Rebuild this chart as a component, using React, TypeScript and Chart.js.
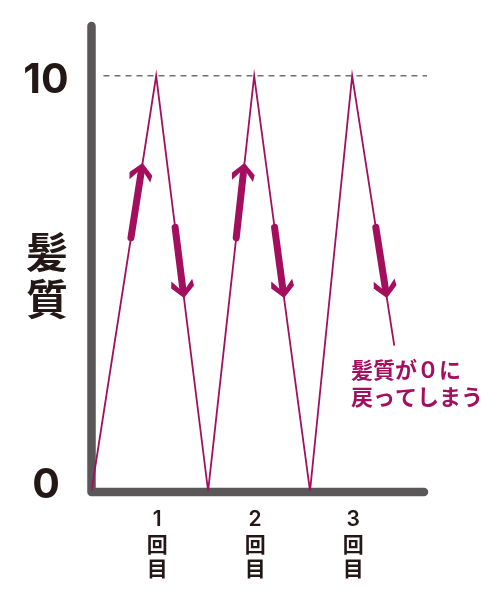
import { useEffect, useRef } from "react";
import { Chart, registerables } from "chart.js";

Chart.register(...registerables);

// zigzag: hair quality rises to 10 after each treatment, then falls back
const xPositions = [0.34, 1, 1.53, 2, 2.57, 3, 3.43];
const hairQuality = [0, 10, 0, 10, 0, 10, 3.5];

const roundValues = [1, 2, 3];
const roundLabels = ["1回目", "2回目", "3回目"];
const yTickValues = [0, 10];
const yTickLabels = ["0", "10"];
const yTitle = "髪質";
const noteLines = ["髪質が０に", "戻ってしまう"];

// arrows drawn along line segments (segment index, shaft start value, tip value)
const upArrowSegments = [0, 2];
const upArrowRange = [6.1, 7.9];
const downArrowSegments = [1, 3, 5];
const downArrowRange = [6.35, 4.65];

const MAGENTA = "#a30f5e";
const AXIS = "#595757";
const INK = "#231815";
const FONT = "'Noto Sans CJK JP', 'Noto Sans', sans-serif";
const NUM_FONT = "Inter, 'Noto Sans', sans-serif";

function drawArrow(ctx: CanvasRenderingContext2D, x0: number, y0: number, x1: number, y1: number) {
  const len = Math.hypot(x1 - x0, y1 - y0);
  const ux = (x1 - x0) / len;
  const uy = (y1 - y0) / len;
  const nx = -uy;
  const ny = ux;
  const p = (a: number, b: number): [number, number] => [x1 + ux * a + nx * b, y1 + uy * a + ny * b];

  ctx.save();
  ctx.strokeStyle = MAGENTA;
  ctx.fillStyle = MAGENTA;
  ctx.lineWidth = 7;
  ctx.lineCap = "round";
  ctx.beginPath();
  ctx.moveTo(x0, y0);
  const [sx, sy] = p(-11, 0);
  ctx.lineTo(sx, sy);
  ctx.stroke();

  const pts = [p(0, 0), p(-11, 11.5), p(-18, 10.5), p(-10, 3.5), p(-10, -3.5), p(-18, -10.5), p(-11, -11.5)];
  ctx.beginPath();
  pts.forEach(([x, y], i) => (i ? ctx.lineTo(x, y) : ctx.moveTo(x, y)));
  ctx.closePath();
  ctx.fill();
  ctx.restore();
}

const overlay = {
  id: "overlay",
  beforeDatasetsDraw(chart: any) {
    const { ctx, chartArea, scales } = chart;
    const { left, right, top, bottom } = chartArea;
    ctx.save();
    // axes
    ctx.strokeStyle = AXIS;
    ctx.lineWidth = 8.5;
    ctx.lineCap = "round";
    ctx.lineJoin = "round";
    ctx.beginPath();
    ctx.moveTo(left, top);
    ctx.lineTo(left, bottom + 1);
    ctx.lineTo(right - 4, bottom + 1);
    ctx.stroke();

    // dashed max line
    const y10 = scales.y.getPixelForValue(10);
    ctx.strokeStyle = "#727171";
    ctx.lineWidth = 1.5;
    ctx.lineCap = "butt";
    ctx.setLineDash([6, 5]);
    ctx.beginPath();
    ctx.moveTo(left + 12, y10);
    ctx.lineTo(right - 1, y10);
    ctx.stroke();
    ctx.restore();
  },
  afterDatasetsDraw(chart: any) {
    const { ctx, scales } = chart;
    const pts = chart.getDatasetMeta(0).data;

    const along = (seg: number, value: number): [number, number] => {
      const a = pts[seg];
      const b = pts[seg + 1];
      const py = scales.y.getPixelForValue(value);
      const t = (py - a.y) / (b.y - a.y);
      return [a.x + (b.x - a.x) * t, py];
    };
    upArrowSegments.forEach((s) => {
      const [x0, y0] = along(s, upArrowRange[0]);
      const [x1, y1] = along(s, upArrowRange[1]);
      drawArrow(ctx, x0, y0, x1, y1);
    });
    downArrowSegments.forEach((s) => {
      const [x0, y0] = along(s, downArrowRange[0]);
      const [x1, y1] = along(s, downArrowRange[1]);
      drawArrow(ctx, x0, y0, x1, y1);
    });

    ctx.save();
    ctx.textBaseline = "middle";
    ctx.textAlign = "center";
    ctx.fillStyle = INK;

    // y tick labels
    ctx.font = `bold 41px ${NUM_FONT}`;
    yTickValues.forEach((v, i) => {
      const y = scales.y.getPixelForValue(v) + (v === 0 ? -5 : 5);
      ctx.fillText(yTickLabels[i], 46, y);
    });

    // y title, vertical
    ctx.font = `bold 42px ${FONT}`;
    [...yTitle].forEach((ch, i) => ctx.fillText(ch, 47, 252 + i * 47));

    // x labels, stacked vertically
    roundValues.forEach((v, i) => {
      const x = scales.x.getPixelForValue(v);
      const chars = [roundLabels[i].slice(0, 1), ...roundLabels[i].slice(1)];
      chars.forEach((ch, j) => {
        ctx.font = j === 0 ? `600 21px ${NUM_FONT}` : `bold 21px ${FONT}`;
        ctx.fillText(ch, x + 1, 520 + j * 24);
      });
    });

    // note
    ctx.fillStyle = MAGENTA;
    ctx.textAlign = "left";
    ctx.font = `bold 22px ${FONT}`;
    noteLines.forEach((line, i) => ctx.fillText(line, 351, 370 + i * 27));
    ctx.restore();
  }
};

export default function App() {
  const canvasRef = useRef<HTMLCanvasElement | null>(null);

  useEffect(() => {
    document.body.style.margin = "0";
    const canvas = canvasRef.current;
    if (!canvas) return;

    const chart = new Chart(canvas, {
      type: "line",
      data: {
        datasets: [
          {
            data: xPositions.map((x, i) => ({ x, y: hairQuality[i] })),
            borderColor: MAGENTA,
            borderWidth: 1.8,
            pointRadius: 0,
            tension: 0
          }
        ]
      },
      options: {
        animation: false,
        responsive: true,
        maintainAspectRatio: false,
        layout: { padding: { left: 91.5, right: 72, top: 26, bottom: 109 } },
        plugins: { legend: { display: false }, tooltip: { enabled: false } },
        scales: {
          x: { type: "linear", min: 0.34, max: 3.774, display: false },
          y: { min: 0, max: 11.2, display: false }
        }
      },
      plugins: [overlay]
    });

    return () => chart.destroy();
  }, []);

  return (
    <div style={{ width: 500, height: 600, position: "relative" }}>
      <canvas ref={canvasRef} />
    </div>
  );
}
